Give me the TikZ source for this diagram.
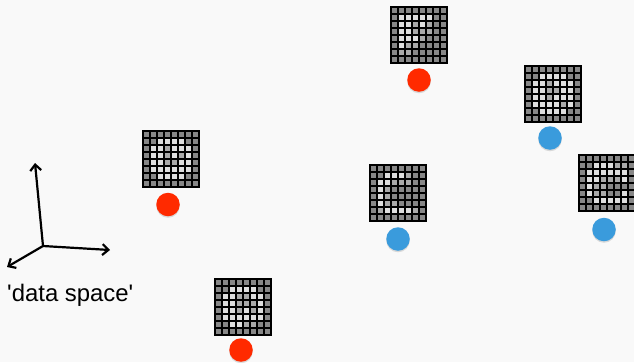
\documentclass[tikz,border=0pt]{standalone}
\usepackage{fontspec}
\newfontfamily\labfont{Liberation Sans}[Ligatures=TeXOff]
\usetikzlibrary{arrows.meta}
\definecolor{c0}{HTML}{878787}
\definecolor{c1}{HTML}{A9A9A9}
\definecolor{c2}{HTML}{DEDEDE}
\definecolor{dotred}{HTML}{FF2A00}
\definecolor{dotblue}{HTML}{3A9BDC}
\definecolor{bg}{HTML}{F9F9F9}
\tikzset{
  dotnode/.style={circle, minimum size=23.5bp, inner sep=0pt, fill=#1,
    preaction={fill=black, opacity=0.13, transform canvas={yshift=-1.5bp}}},
  gridline/.style={draw=black, line width=2bp},
  axis/.style={line width=2.2bp, -{Straight Barb[length=6bp,width=11bp,line width=2.2bp]}},
}
\newcommand\mygrid[4]{% #1 name, #2 x, #3 y, #4 rows
  \begin{scope}[shift={(#2,#3)}]
    \foreach \rowv [count=\j from 0] in {#4} {
      \foreach \v [count=\i from 0] in \rowv {
        \fill[c\v] (\i*7,\j*7) rectangle ++(7,7);
      }
    }
    \foreach \k in {0,...,8} {
      \draw[gridline] (\k*7,-1) -- ++(0,58);
      \draw[gridline] (-1,\k*7) -- ++(58,0);
    }
    \coordinate (#1) at (28,28);
  \end{scope}
}
\begin{document}
\begin{tikzpicture}[x=1bp,y=-1bp]
\useasboundingbox (0,0) rectangle (634,362);
\fill[bg] (0,0) rectangle (634,362);
\clip (0,0) rectangle (634,362);

% grids
\mygrid{gA}{143}{131}{{0,0,0,0,0,0,0,0},{0,0,2,2,2,2,0,0},{0,2,2,1,2,2,2,0},{0,2,2,1,2,1,2,0},{0,2,2,1,1,2,2,0},{0,2,2,2,2,2,2,0},{0,0,2,2,2,2,0,0},{0,0,0,0,0,0,0,0}}
\mygrid{gB}{391}{7}{{0,0,0,0,0,0,0,0},{0,2,2,2,2,2,0,0},{0,2,2,1,2,1,0,0},{0,2,2,1,1,1,0,0},{0,2,2,2,1,0,0,0},{0,2,1,1,0,0,0,0},{0,1,1,0,0,0,0,0},{0,0,0,0,0,0,0,0}}
\mygrid{gC}{525}{66}{{0,0,0,0,0,0,0,0},{0,0,2,2,2,2,0,0},{0,2,2,1,2,2,2,0},{0,2,2,1,1,2,2,0},{0,2,2,1,2,2,2,0},{0,2,2,2,2,1,2,0},{0,0,2,2,2,2,0,0},{0,0,0,0,0,0,0,0}}
\mygrid{gD}{370}{165}{{0,0,0,0,0,0,0,0},{0,0,2,2,2,1,0,0},{0,2,2,1,1,1,0,0},{0,2,1,0,0,0,0,0},{0,2,1,0,0,0,0,0},{0,2,1,1,0,0,0,0},{0,1,2,2,2,2,1,0},{0,0,0,0,0,0,0,0}}
\mygrid{gE}{579}{155}{{0,0,0,0,0,0,0,0},{0,0,2,2,2,1,1,0},{0,2,2,2,2,2,2,0},{0,2,2,1,1,1,2,0},{0,2,1,1,0,0,0,0},{0,2,1,1,0,0,2,0},{0,0,2,2,2,2,2,0},{0,0,0,0,0,0,0,0}}
\mygrid{gF}{215}{279}{{0,0,0,0,0,0,0,0},{0,0,2,2,2,2,0,0},{0,2,2,1,1,2,2,0},{0,2,2,1,1,1,2,0},{0,2,2,1,2,1,2,0},{0,2,2,2,2,2,2,0},{0,0,2,2,1,1,0,0},{0,0,0,0,0,0,0,0}}

% dots
\node[dotnode=dotred]  (dA) at (168,204.5) {};
\node[dotnode=dotred]  (dB) at (419,80) {};
\node[dotnode=dotblue] (dC) at (550,138) {};
\node[dotnode=dotblue] (dD) at (398,239) {};
\node[dotnode=dotblue] (dE) at (604,229.5) {};
\node[dotnode=dotred]  (dF) at (241,350) {};

% axes
\coordinate (o) at (43,246);
\coordinate (ay) at (35,163);
\coordinate (ax) at (110,250);
\coordinate (az) at (7,267);
\draw[axis] (o) -- (ay);
\draw[axis] (o) -- (ax);
\draw[axis] (o) -- (az);

\node[anchor=base west, inner sep=0pt, font=\labfont\fontsize{24}{28}\selectfont] (lab) at (7,301) {'data space'};
\end{tikzpicture}
\end{document}
